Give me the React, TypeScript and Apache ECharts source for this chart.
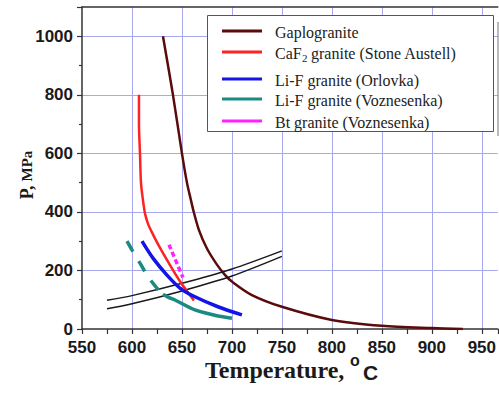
import React, { useEffect, useRef } from "react";
import * as echarts from "echarts";

// ---- data (Temperature °C, Pressure MPa) ----
const gaplogranite: number[][] = [
  [631, 1000], [641, 800], [650, 600], [655, 500], [659, 440], [662, 397], [667, 338],
  [675, 275], [685, 220], [693, 185], [700, 162], [720, 116], [750, 76], [800, 31],
  [850, 11], [900, 3], [931, 0],
];
const caf2Granite: number[][] = [
  [607, 800], [607, 700], [608, 600], [609, 500], [611, 440], [613, 395], [616, 360],
  [620, 330], [626, 290], [636, 230], [648, 163], [662, 97],
];
const lifOrlovka: number[][] = [
  [610, 300], [621, 242], [635, 184], [648, 140], [663, 110], [686, 76], [710, 48],
];
const lifVoznesenkaDashed: number[][] = [
  [595, 300], [601, 264], [608, 225], [615, 184], [622, 152], [628, 127],
];
const lifVoznesenkaSolid: number[][] = [
  [631, 119], [636, 109], [643, 99], [663, 65], [685, 45], [700, 37],
];
const btVoznesenka: number[][] = [[637, 288], [651, 176]];
const solidusUpper: number[][] = [[575, 98], [600, 114], [650, 156], [700, 205], [750, 267]];
const solidusLower: number[][] = [[575, 69], [600, 86], [650, 130], [700, 181], [750, 248]];

const legendNames = [
  "Gaplogranite",
  "CaF2 granite (Stone Austell)",
  "Li-F granite (Orlovka)",
  "Li-F granite (Voznesenka)",
  "Bt granite (Voznesenka)",
];
const legendColors = ["#5a0b0b", "#ff2222", "#1414e6", "#1b8a80", "#ff22ff"];

const T_MIN = 550;
const T_MAX = 966;
const T_STEP = 50;
const P_MIN = 0;
const P_MAX = 1100;
const P_STEP = 200;

export default function App() {
  const ref = useRef<HTMLDivElement>(null);

  useEffect(() => {
    if (!ref.current) return;
    const chart = echarts.init(ref.current, null, { renderer: "svg" });

    const serif = "'Liberation Serif', 'Times New Roman', serif";
    const sans = "'Liberation Sans', Arial, sans-serif";

    const legendRowsY = [31, 52, 79, 99, 121];
    const legendGraphics: any[] = [
      {
        type: "line",
        shape: { x1: 498, y1: 22, x2: 498, y2: 136 },
        style: { stroke: "#777", lineWidth: 1 },
        z: 100,
      },
      {
        type: "rect",
        shape: { x: 207.5, y: 15.5, width: 286, height: 116 },
        style: { fill: "#fff", stroke: "#555", lineWidth: 1 },
        z: 100,
      },
    ];
    legendNames.forEach((name, i) => {
      const y = legendRowsY[i];
      legendGraphics.push({
        type: "line",
        shape: { x1: 222, y1: y, x2: 262, y2: y },
        style: { stroke: legendColors[i], lineWidth: 3 },
        z: 101,
      });
      if (i === 1) {
        legendGraphics.push({
          type: "text",
          style: { text: "CaF", x: 275, y: y + 1, fill: "#222", font: `16px ${serif}`, align: "left", verticalAlign: "middle" },
          z: 101,
        });
        legendGraphics.push({
          type: "text",
          style: { text: "2", x: 302, y: y + 6, fill: "#222", font: `11px ${serif}`, align: "left", verticalAlign: "middle" },
          z: 101,
        });
        legendGraphics.push({
          type: "text",
          style: { text: " granite (Stone Austell)", x: 307, y: y + 1, fill: "#222", font: `16px ${serif}`, align: "left", verticalAlign: "middle" },
          z: 101,
        });
      } else {
        legendGraphics.push({
          type: "text",
          style: { text: name, x: 275, y: y + 1, fill: "#222", font: `16px ${serif}`, align: "left", verticalAlign: "middle" },
          z: 101,
        });
      }
    });

    const lineSeries = (data: number[][], color: string, width: number, type: any = "solid", z = 2, name?: string) => ({
      type: "line",
      name,
      data,
      symbol: "none",
      smooth: 0.3,
      z,
      lineStyle: { color, width, type, cap: "butt" },
    });

    chart.setOption({
      animation: false,
      backgroundColor: "#fff",
      grid: { left: 82, right: 1, top: 7, bottom: 73, containLabel: false },
      xAxis: [
        {
          type: "value",
          min: T_MIN,
          max: T_MAX,
          interval: T_STEP,
          axisLine: { show: true, lineStyle: { color: "#333", width: 1.5 } },
          axisTick: { show: true, length: 5, lineStyle: { color: "#333", width: 1.2 } },
          minorTick: { show: true, splitNumber: 2, length: 5, lineStyle: { color: "#333", width: 1.2 } },
          splitLine: { show: true, showMaxLine: false, showMinLine: false, lineStyle: { color: "#a8a8ee", width: 1 } },
          axisLabel: {
            margin: 10,
            color: "#1a1a1a",
            fontFamily: sans,
            fontWeight: "bold",
            fontSize: 17,
            showMaxLabel: false,
            formatter: (v: number) => String(v),
          },
        },
        {
          type: "value",
          position: "top",
          min: T_MIN,
          max: T_MAX,
          interval: T_STEP,
          axisLine: { show: true, lineStyle: { color: "#333", width: 1.5 } },
          axisTick: { show: false },
          axisLabel: { show: false },
          splitLine: { show: false },
        },
      ],
      yAxis: {
        type: "value",
        min: P_MIN,
        max: P_MAX,
        interval: P_STEP,
        axisLine: { show: true, lineStyle: { color: "#333", width: 1.5 } },
        axisTick: { show: true, length: 5, lineStyle: { color: "#333", width: 1.2 } },
        minorTick: { show: true, splitNumber: 2, length: 3, lineStyle: { color: "#333", width: 1.2 } },
        splitLine: { show: true, showMaxLine: false, showMinLine: false, lineStyle: { color: "#a8a8ee", width: 1 } },
        axisLabel: {
          margin: 9,
          color: "#1a1a1a",
          fontFamily: sans,
          fontWeight: "bold",
          fontSize: 17,
          showMaxLabel: false,
          formatter: (v: number) => String(v),
        },
      },
      series: [
        lineSeries(gaplogranite, legendColors[0], 2.5, "solid", 2, legendNames[0]),
        lineSeries(solidusUpper, "#1a1a1a", 1.5, "solid", 3),
        lineSeries(solidusLower, "#1a1a1a", 1.5, "solid", 3),
        lineSeries(caf2Granite, legendColors[1], 2.5, "solid", 4, legendNames[1]),
        lineSeries(lifVoznesenkaSolid, legendColors[3], 3.5, "solid", 4, legendNames[3]),
        lineSeries(lifVoznesenkaDashed, legendColors[3], 3.5, [12, 11], 4, legendNames[3]),
        lineSeries(lifOrlovka, legendColors[2], 3.5, "solid", 5, legendNames[2]),
        lineSeries(btVoznesenka, legendColors[4], 3.5, [5, 3], 6, legendNames[4]),
      ],
      graphic: [
        ...legendGraphics,
        {
          type: "text",
          rotation: Math.PI / 2,
          x: 27,
          y: 175,
          style: {
            text: "{p|P,} {m|MPa}",
            align: "center",
            verticalAlign: "middle",
            fill: "#1a1a1a",
            rich: {
              p: { font: `bold 18px ${serif}`, fill: "#1a1a1a" },
              m: { font: `bold 15px ${serif}`, fill: "#1a1a1a" },
            },
            font: `bold 16px ${serif}`,
          },
        },
        {
          type: "text",
          style: { text: "Temperature,", x: 205, y: 370, font: `bold 24px ${serif}`, fill: "#1a1a1a", align: "left", verticalAlign: "middle" },
        },
        {
          type: "text",
          style: { text: "o", x: 350, y: 360, font: `bold 16px ${sans}`, fill: "#1a1a1a", align: "left", verticalAlign: "middle" },
        },
        {
          type: "text",
          style: { text: "C", x: 363, y: 372, font: `bold 21px ${sans}`, fill: "#1a1a1a", align: "left", verticalAlign: "middle" },
        },
      ],
    });

    return () => chart.dispose();
  }, []);

  return (
    <div
      ref={ref}
      style={{ position: "absolute", left: 0, top: 0, width: 499, height: 402, background: "#fff" }}
    />
  );
}
